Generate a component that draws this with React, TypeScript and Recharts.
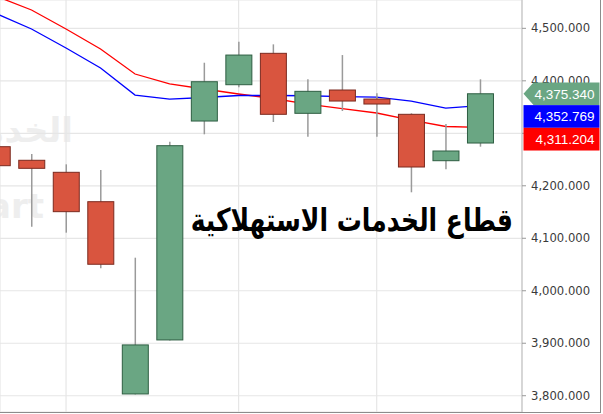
import React from 'react';
import {
  ComposedChart,
  Bar,
  Line,
  XAxis,
  YAxis,
  CartesianGrid,
  ReferenceLine,
} from 'recharts';

// trading sessions (index along the x axis)
const days = [0, 1, 2, 3, 4, 5, 6, 7, 8, 9, 10, 11, 12, 13, 14];
const opens = [4274.5, 4248.6, 4225.7, 4169.7, 3803.4, 3906.3, 4323.4, 4392.6, 4452.4, 4338.1, 4382.5, 4365.3, 4336.2, 4247.8, 4281.5];
const highs = [4282, 4260.6, 4240.9, 4230, 4063, 4284, 4434.5, 4474.5, 4469.5, 4402.9, 4449.1, 4376.2, 4338.1, 4317.7, 4402.9];
const lows = [4230, 4122, 4110.7, 4042.9, 3802.5, 3905.3, 4298.1, 4387.6, 4321.5, 4293.5, 4342.5, 4293.5, 4187.6, 4231.4, 4274.5];
const closes = [4238.3, 4233.3, 4150.7, 4050.5, 3896.8, 4276.4, 4398.3, 4449.1, 4336.2, 4380, 4361.5, 4355.8, 4235.8, 4266.3, 4375.34];
const redAvg = [4560.6, 4535, 4498.7, 4460.6, 4413, 4394, 4384.4, 4374.9, 4366.3, 4355.8, 4347.2, 4338.7, 4325.3, 4313, 4311.204];
const blueAvg = [4527.6, 4498.7, 4462.5, 4424.4, 4372.8, 4365.3, 4368.2, 4372, 4372, 4371.6, 4370, 4369, 4361.5, 4348, 4352.769];

const yTicks = [3800, 3900, 4000, 4100, 4200, 4300, 4400, 4500];
const gridDays = [2, 7, 11];
const title = 'قطاع الخدمات الاستهلاكية';

const data = days.map((d, i) => ({
  day: d,
  open: opens[i],
  high: highs[i],
  low: lows[i],
  close: closes[i],
  range: [lows[i], highs[i]],
  red: redAvg[i],
  blue: blueAvg[i],
}));

const last = data[data.length - 1];

const fmt = (v: number) =>
  v.toLocaleString('en-US', { minimumFractionDigits: 3, maximumFractionDigits: 3 });

const Candle = (props: any) => {
  const { x, y, width, height, payload } = props;
  if (height == null || !payload) return null;
  const { open, close, high, low } = payload;
  const k = height / (high - low || 1);
  const py = (v: number) => y + (high - v) * k;
  const up = close >= open;
  const top = py(Math.max(open, close));
  const bot = py(Math.min(open, close));
  const cx = x + width / 2;
  return (
    <g>
      <line x1={cx} x2={cx} y1={y} y2={y + height} stroke="#9a9a9a" strokeWidth={1.5} />
      <rect
        x={x + 0.5}
        y={top}
        width={width - 1}
        height={Math.max(bot - top, 1)}
        fill={up ? '#6aa683' : '#d9553f'}
        stroke={up ? '#2e5e42' : '#7b2a1f'}
        strokeWidth={1}
      />
    </g>
  );
};

const renderTags = (props: any) => {
  const vb = props.viewBox;
  if (!vb) return null;
  const x0 = vb.x + vb.width + 1.5;
  const x1 = 599.5;
  const h = 22.7;
  const cy = vb.y;
  const tags = [
    { v: last.close, color: '#6aa683' },
    { v: last.blue, color: '#0000ff' },
    { v: last.red, color: '#ff0000' },
  ];
  return (
    <g>
      {tags.map((t, i) => {
        const top = cy - h / 2 + i * h;
        const shape =
          i === 0 ? (
            <polygon
              points={`${x0},${cy} ${x0 + 10},${top} ${x1},${top} ${x1},${top + h} ${x0 + 10},${top + h}`}
              fill={t.color}
            />
          ) : (
            <rect x={x0} y={top} width={x1 - x0} height={h} fill={t.color} />
          );
        return (
          <g key={i}>
            {shape}
            <text
              x={x1 - 5}
              y={top + h / 2 + 5}
              textAnchor="end"
              fill="#ffffff"
              fontFamily="'Liberation Sans', Arial, sans-serif"
              fontSize={13.5}
            >
              {fmt(t.v)}
            </text>
          </g>
        );
      })}
    </g>
  );
};

export default function App() {
  return (
    <div style={{ position: 'absolute', left: 0, top: 0, width: 603, height: 414, background: '#fff', overflow: 'hidden' }}>
      <div
        style={{
          position: 'absolute',
          left: 0,
          top: 0,
          width: 600,
          height: 412,
          borderRight: '1px solid #8c8c8c',
          borderBottom: '1px solid #8c8c8c',
        }}
      >
        <div
          dir="rtl"
          style={{
            position: 'absolute',
            right: 527,
            top: 110,
            fontFamily: "'DejaVu Sans', sans-serif",
            fontWeight: 'bold',
            fontSize: 34,
            color: '#eeeeee',
            whiteSpace: 'nowrap',
          }}
        >
          الخدمات
        </div>
        <div
          style={{
            position: 'absolute',
            right: 556,
            top: 186,
            fontFamily: "'DejaVu Sans', sans-serif",
            fontWeight: 'bold',
            fontSize: 34,
            color: '#eeeeee',
            whiteSpace: 'nowrap',
          }}
        >
          Chart
        </div>
        <div style={{ position: 'absolute', left: 0, top: 0 }}>
          <ComposedChart width={600} height={412} data={data} margin={{ top: 0, right: 0, bottom: 0, left: 0 }}>
            <CartesianGrid stroke="#e6e6e6" strokeWidth={1.2} />
            <XAxis
              dataKey="day"
              type="number"
              domain={[0.087, 15.21]}
              allowDataOverflow
              ticks={gridDays}
              hide
            />
            <YAxis
              orientation="right"
              width={78}
              domain={[3769, 4554]}
              allowDataOverflow
              ticks={yTicks}
              tickFormatter={fmt}
              axisLine={{ stroke: '#bdbdbd' }}
              tickLine={{ stroke: '#999' }}
              tickSize={4}
              tickMargin={5}
              tick={{ fill: '#3a3a3a', fontSize: 11.6, fontFamily: "'DejaVu Sans', sans-serif" }}
            />
            <Line dataKey="red" stroke="#ff0000" strokeWidth={1.3} dot={false} isAnimationActive={false} zIndex={400} />
            <Line dataKey="blue" stroke="#0000ff" strokeWidth={1.3} dot={false} isAnimationActive={false} zIndex={400} />
            <Bar dataKey="range" barSize={27} shape={<Candle />} isAnimationActive={false} zIndex={450} />
            <ReferenceLine y={last.close} stroke="none" label={renderTags} zIndex={2000} />
          </ComposedChart>
        </div>
        <div
          dir="rtl"
          style={{
            position: 'absolute',
            right: 87,
            top: 189,
            fontFamily: "'DejaVu Sans', sans-serif",
            fontWeight: 'bold',
            fontSize: 25,
            color: '#000',
            lineHeight: '50px',
            whiteSpace: 'nowrap',
            transform: 'scaleY(1.27)',
            transformOrigin: 'right top',
          }}
        >
          {title}
        </div>
      </div>
    </div>
  );
}
